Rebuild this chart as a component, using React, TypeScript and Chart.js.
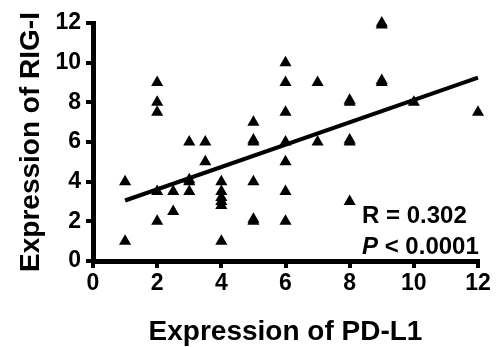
import React, { useEffect, useRef } from "react";
import { Chart, registerables } from "chart.js";

Chart.register(...registerables);

// PD-L1 expression (x) and RIG-I expression (y) for each sample
const pdl1Values = [
  1, 1,
  2, 2, 2, 2, 2,
  2.5, 2.5,
  3, 3, 3, 3,
  3.5, 3.5,
  4, 4, 4, 4, 4, 4,
  5, 5, 5, 5, 5, 5,
  6, 6, 6, 6, 6, 6, 6,
  7, 7,
  8, 8, 8, 8, 8,
  9, 9, 9, 9,
  10,
  12,
];
const rigiValues = [
  4, 1,
  9, 8, 7.5, 3.5, 2,
  3.5, 2.5,
  6, 4, 4.1, 3.5,
  6, 5,
  4, 3.5, 3.2, 3, 2.8, 1,
  7, 6, 6.1, 4, 2, 2.1,
  10, 9, 7.5, 6, 5, 3.5, 2,
  9, 6,
  8, 8.1, 6, 6.1, 3,
  12, 11.9, 9, 9.1,
  8,
  7.5,
];

// Linear fit end points (x, y)
const fitX = [1, 12];
const fitY = [3.05, 9.25];

const xTicks = [0, 2, 4, 6, 8, 10, 12];
const yTicks = [0, 2, 4, 6, 8, 10, 12];

const statLines = ["R = 0.302", "P < 0.0001"];

const FONT = "'Liberation Sans', Arial, Helvetica, sans-serif";

export default function App() {
  const ref = useRef<HTMLCanvasElement | null>(null);

  useEffect(() => {
    const canvas = ref.current;
    if (!canvas) return;

    const statsPlugin = {
      id: "stats",
      afterDatasetsDraw(chart: any) {
        const { ctx, chartArea } = chart;
        ctx.save();
        ctx.fillStyle = "#000";
        ctx.textAlign = "left";
        ctx.textBaseline = "alphabetic";
        const left = chartArea.right - 116;
        ctx.font = `bold 24px ${FONT}`;
        ctx.fillText(statLines[0], left, chartArea.bottom - 38);
        // second line: italic P
        const parts = statLines[1].split(" ");
        ctx.font = `italic bold 24px ${FONT}`;
        ctx.fillText(parts[0], left, chartArea.bottom - 7);
        const w = ctx.measureText(parts[0]).width;
        ctx.font = `bold 24px ${FONT}`;
        ctx.fillText(" " + parts.slice(1).join(" "), left + w, chartArea.bottom - 7);
        ctx.restore();
      },
    };

    const chart = new Chart(canvas, {
      type: "scatter",
      data: {
        datasets: [
          {
            label: "samples",
            data: pdl1Values.map((x, i) => ({ x, y: rigiValues[i] })),
            pointStyle: "triangle",
            pointRadius: 7,
            pointBackgroundColor: "#000",
            pointBorderColor: "#000",
            pointBorderWidth: 0,
            showLine: false,
            clip: false,
          },
          {
            label: "fit",
            data: fitX.map((x, i) => ({ x, y: fitY[i] })),
            showLine: true,
            borderColor: "#000",
            borderWidth: 4,
            pointRadius: 0,
            fill: false,
            clip: false,
          },
        ],
      },
      options: {
        responsive: false,
        animation: false,
        layout: { padding: { top: 23, right: 21, left: 0, bottom: 0 } },
        plugins: {
          legend: { display: false },
          tooltip: { enabled: false },
        },
        scales: {
          x: {
            type: "linear",
            min: 0,
            max: 12,
            afterFit: (s: any) => {
              s.height = 86;
            },
            afterBuildTicks: (s: any) => {
              s.ticks = xTicks.map((v) => ({ value: v }));
            },
            ticks: {
              color: "#000",
              font: { family: FONT, size: 23, weight: "bold" },
              padding: 2,
              maxRotation: 0,
              autoSkip: false,
            },
            grid: {
              drawOnChartArea: false,
              drawTicks: true,
              tickLength: 7,
              lineWidth: 4,
              color: "#000",
            },
            border: { display: true, width: 5, color: "#000" },
            title: {
              display: true,
              text: "Expression of PD-L1",
              color: "#000",
              font: { family: FONT, size: 28, weight: "bold", lineHeight: 1 },
              padding: { top: 0, bottom: 1 },
            },
          },
          y: {
            type: "linear",
            min: 0,
            max: 12,
            afterFit: (s: any) => {
              s.width = 93;
            },
            afterBuildTicks: (s: any) => {
              s.ticks = yTicks.map((v) => ({ value: v }));
            },
            ticks: {
              color: "#000",
              font: { family: FONT, size: 23, weight: "bold" },
              padding: 5,
              autoSkip: false,
            },
            grid: {
              drawOnChartArea: false,
              drawTicks: true,
              tickLength: 7,
              lineWidth: 4,
              color: "#000",
            },
            border: { display: true, width: 5, color: "#000" },
            title: {
              display: true,
              text: "Expression of RIG-I",
              color: "#000",
              font: { family: FONT, size: 28, weight: "bold", lineHeight: 1 },
              padding: { top: 17, bottom: 0 },
            },
          },
        },
      },
      plugins: [statsPlugin],
    });

    return () => chart.destroy();
  }, []);

  return (
    <div
      style={{
        position: "fixed",
        left: 0,
        top: 0,
        width: 499,
        height: 347,
        background: "#fff",
      }}
    >
      <canvas ref={ref} width={499} height={347} />
    </div>
  );
}
